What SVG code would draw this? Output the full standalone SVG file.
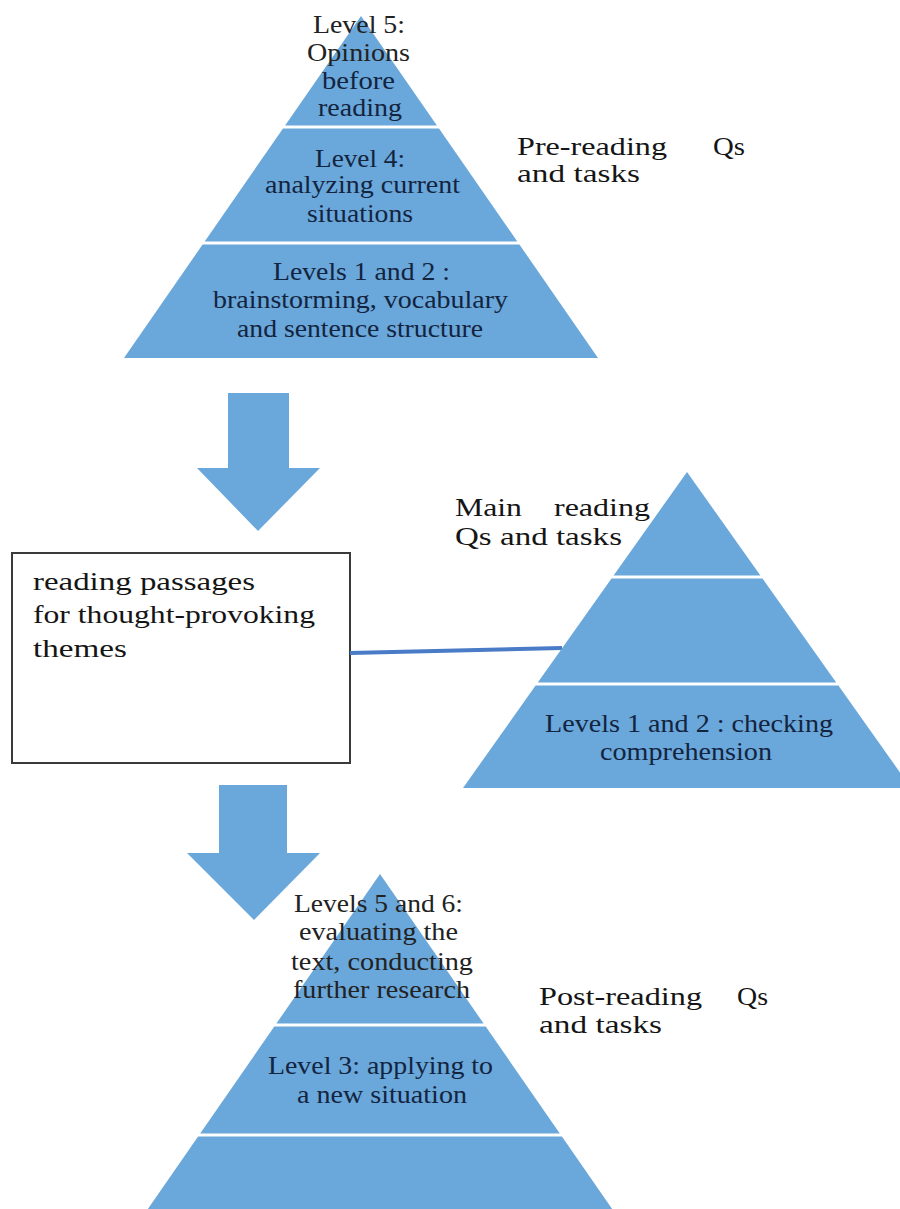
<svg xmlns="http://www.w3.org/2000/svg" width="900" height="1209" viewBox="0 0 900 1209">
<style>
.seg{fill:#6aa7da}
.arrow{fill:#6aa7da}
text{font-family:'Liberation Serif','DejaVu Serif','Times New Roman',serif}
.t{font-size:25px;fill:#13243f}
.o{font-size:25px;fill:#222222}
.lbl{font-size:26px;fill:#151515}
.box{fill:#ffffff;stroke:#3a3a3a;stroke-width:2}
.conn{stroke:#4a7bc6;stroke-width:4;fill:none}
</style>
<rect width="900" height="1209" fill="#ffffff"/>
<g id="pyramid-pre" font-family="Liberation Serif, DejaVu Serif, serif">
<polygon class="seg" points="361,16 436.9,125.5 285.1,125.5"/>
<polygon class="seg" points="283,128.5 439,128.5 517.3,241.5 204.7,241.5"/>
<polygon class="seg" points="202.6,244.5 519.4,244.5 598,358 124,358"/>
<text class="o" x="313" y="33" textLength="92" lengthAdjust="spacingAndGlyphs">Level 5:</text>
<text class="o" x="307" y="61" textLength="103" lengthAdjust="spacingAndGlyphs">Opinions</text>
<text class="t" x="322" y="89" textLength="73" lengthAdjust="spacingAndGlyphs">before</text>
<text class="t" x="318" y="116" textLength="84" lengthAdjust="spacingAndGlyphs">reading</text>
<text class="t" x="315" y="167" textLength="90" lengthAdjust="spacingAndGlyphs">Level 4:</text>
<text class="t" x="265" y="193" textLength="195" lengthAdjust="spacingAndGlyphs">analyzing current</text>
<text class="t" x="307" y="222" textLength="106" lengthAdjust="spacingAndGlyphs">situations</text>
<text class="t" x="273" y="280" textLength="177" lengthAdjust="spacingAndGlyphs">Levels 1 and 2 :</text>
<text class="t" x="213" y="308" textLength="295" lengthAdjust="spacingAndGlyphs">brainstorming, vocabulary</text>
<text class="t" x="237" y="337" textLength="246" lengthAdjust="spacingAndGlyphs">and sentence structure</text>
</g>
<g id="label-pre" font-family="Liberation Serif, DejaVu Serif, serif">
<text class="lbl" x="517" y="155" textLength="150" lengthAdjust="spacingAndGlyphs">Pre-reading</text>
<text class="lbl" x="713" y="155" textLength="32" lengthAdjust="spacingAndGlyphs">Qs</text>
<text class="lbl" x="517" y="182" textLength="123" lengthAdjust="spacingAndGlyphs">and tasks</text>
</g>
<g id="arrow-1">
<polygon class="arrow" points="228,393 289,393 289,468 320,468 258,531 197,468 228,468"/>
</g>
<g id="box-reading" font-family="Liberation Serif, DejaVu Serif, serif">
<rect class="box" x="12" y="553" width="338" height="210"/>
<text class="lbl" x="33" y="590" textLength="222" lengthAdjust="spacingAndGlyphs">reading passages</text>
<text class="lbl" x="33" y="623" textLength="282" lengthAdjust="spacingAndGlyphs">for thought-provoking</text>
<text class="lbl" x="33" y="657" textLength="94" lengthAdjust="spacingAndGlyphs">themes</text>
</g>
<g id="connectors">
<line class="conn" x1="350" y1="653" x2="562" y2="648"/>
</g>
<g id="pyramid-main" font-family="Liberation Serif, DejaVu Serif, serif">
<polygon class="seg" points="687,472 760.4,575.5 613.6,575.5"/>
<polygon class="seg" points="611.5,578.5 762.5,578.5 836.2,682.5 537.8,682.5"/>
<polygon class="seg" points="535.6,685.5 838.4,685.5 911,788 463,788"/>
<text class="t" x="545" y="732" textLength="288" lengthAdjust="spacingAndGlyphs">Levels 1 and 2 : checking</text>
<text class="t" x="600" y="760" textLength="172" lengthAdjust="spacingAndGlyphs">comprehension</text>
</g>
<g id="label-main" font-family="Liberation Serif, DejaVu Serif, serif">
<text class="lbl" x="455" y="516" textLength="67" lengthAdjust="spacingAndGlyphs">Main</text>
<text class="lbl" x="554" y="516" textLength="96" lengthAdjust="spacingAndGlyphs">reading</text>
<text class="lbl" x="455" y="545" textLength="167" lengthAdjust="spacingAndGlyphs">Qs and tasks</text>
</g>
<g id="arrow-2">
<polygon class="arrow" points="219,785 287,785 287,853 320,853 254,920 187,853 219,853"/>
</g>
<g id="pyramid-post" font-family="Liberation Serif, DejaVu Serif, serif">
<polygon class="seg" points="380,874 483.6,1023.5 276.4,1023.5"/>
<polygon class="seg" points="274.3,1026.5 485.7,1026.5 559.8,1133.5 200.2,1133.5"/>
<polygon class="seg" points="198.1,1136.5 561.9,1136.5 616.3,1215 143.7,1215"/>
<text class="o" x="294" y="912" textLength="169" lengthAdjust="spacingAndGlyphs">Levels 5 and 6:</text>
<text class="o" x="299" y="940" textLength="159" lengthAdjust="spacingAndGlyphs">evaluating the</text>
<text class="o" x="291" y="970" textLength="182" lengthAdjust="spacingAndGlyphs">text, conducting</text>
<text class="o" x="293" y="998" textLength="177" lengthAdjust="spacingAndGlyphs">further research</text>
<text class="t" x="268" y="1074" textLength="225" lengthAdjust="spacingAndGlyphs">Level 3: applying to</text>
<text class="t" x="297" y="1103" textLength="170" lengthAdjust="spacingAndGlyphs">a new situation</text>
</g>
<g id="label-post" font-family="Liberation Serif, DejaVu Serif, serif">
<text class="lbl" x="539" y="1005" textLength="163" lengthAdjust="spacingAndGlyphs">Post-reading</text>
<text class="lbl" x="737" y="1005" textLength="31" lengthAdjust="spacingAndGlyphs">Qs</text>
<text class="lbl" x="539" y="1033" textLength="123" lengthAdjust="spacingAndGlyphs">and tasks</text>
</g>
</svg>
